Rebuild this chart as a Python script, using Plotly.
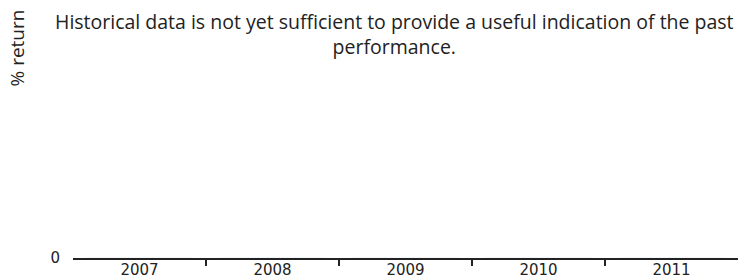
import plotly.graph_objects as go

years = ["2007", "2008", "2009", "2010", "2011"]
returns = [None, None, None, None, None]
y_ticks = [0]
y_tick_labels = ["0"]
message = "Historical data is not yet sufficient to provide a useful indication of the past<br>performance."
y_title = "% return"

W, H = 738, 280
ml, mr, mt, mb = 73, 0, 0, 22
pw = W - ml - mr
ph = H - mt - mb

fig = go.Figure()
fig.add_trace(go.Bar(x=list(range(len(years))), y=[0 if v is None else v for v in returns],
                     marker_color="#1f3f7f", showlegend=False, hoverinfo="skip"))

tick_font = dict(family="DejaVu Sans", size=15, color="#222222")
text_font = dict(family="Open Sans", size=19, color="#222222")

fig.update_layout(
    width=W, height=H,
    margin=dict(l=ml, r=mr, t=mt, b=mb, pad=0),
    paper_bgcolor="white", plot_bgcolor="white",
    xaxis=dict(
        range=[-0.5, len(years) - 0.5],
        tickvals=list(range(len(years))), ticktext=years,
        ticks="", showgrid=False, zeroline=False,
        showline=True, linecolor="#222222", linewidth=1.5,
        tickfont=tick_font, automargin=False, ticklabelstandoff=-3,
        minor=dict(tickvals=[i + 0.5 for i in range(len(years) - 1)], ticks="outside",
                   ticklen=6, tickwidth=1.5, tickcolor="#222222", showgrid=False),
        fixedrange=True,
    ),
    yaxis=dict(
        range=[0, 1], tickvals=y_ticks, ticktext=y_tick_labels,
        showgrid=False, zeroline=False, showline=False, ticks="",
        ticklabelstandoff=12, automargin=False,
        tickfont=tick_font,
        fixedrange=True,
    ),
    annotations=[
        dict(text=message, xref="paper", yref="paper", x=(394 - ml) / pw, y=1 - 6 / ph,
             xanchor="center", yanchor="top", showarrow=False, align="center",
             font=dict(text_font, size=19.5)),
        dict(text=y_title, xref="paper", yref="paper", x=(16 - ml) / pw, y=1 - 8 / ph,
             xanchor="center", yanchor="top", showarrow=False, textangle=-90,
             font=text_font),
    ],
)

fig.write_html("out.html", config={"displayModeBar": False},
               post_script="document.body.style.margin='0';")
